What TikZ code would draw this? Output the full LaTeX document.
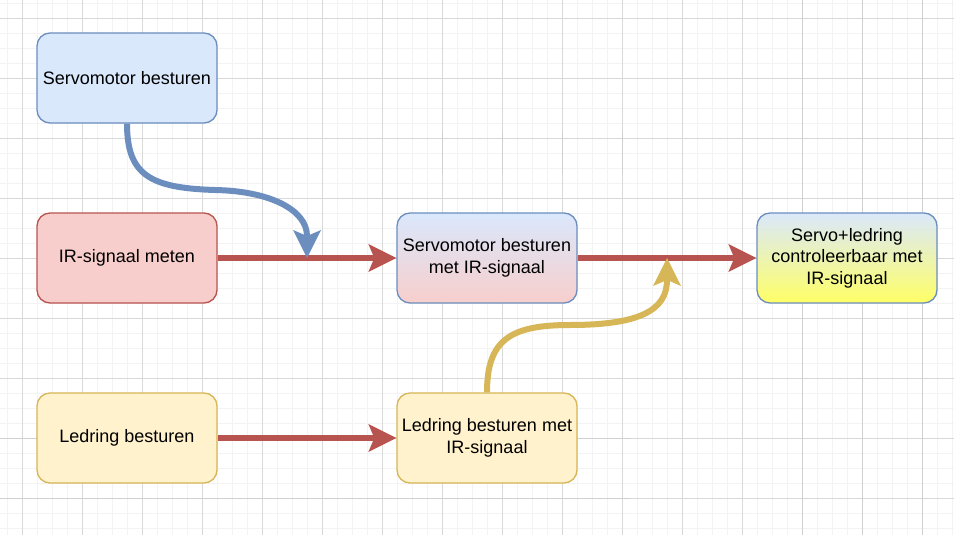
\documentclass[tikz,border=0pt]{standalone}
\usepackage{fontspec}
\setmainfont{Liberation Sans}
\usetikzlibrary{arrows.meta}
\definecolor{bfill}{HTML}{DAE8FC}
\definecolor{bline}{HTML}{6C8EBF}
\definecolor{rfill}{HTML}{F8CECC}
\definecolor{rline}{HTML}{B85450}
\definecolor{yfill}{HTML}{FFF2CC}
\definecolor{yline}{HTML}{D6B656}
\definecolor{ygrad}{HTML}{FFFF66}
\definecolor{gminor}{HTML}{F3F3F3}
\definecolor{gmajor}{HTML}{D9D9D9}
\definecolor{gdark}{HTML}{D0D0D0}
\tikzset{
  box/.style={rounded corners=13pt, line width=1.3pt, minimum width=180pt, minimum height=90pt,
    align=center, inner sep=0pt, font=\fontsize{18}{21.6}\selectfont},
  bluebox/.style={box, draw=bline, fill=bfill},
  redbox/.style={box, draw=rline, fill=rfill},
  yelbox/.style={box, draw=yline, fill=yfill},
  tipA/.style={-{Stealth[length=28pt,width=28pt,inset=6pt,line width=0pt]}},
  conn/.style={tipA, line width=6pt},
}
\begin{document}
\begin{tikzpicture}[x=1pt,y=-1pt]
\useasboundingbox (0,0) rectangle (954,535);
\fill[white] (0,0) rectangle (954,535);
% grid
\foreach \x in {7.7,22.7,...,954} \draw[gminor, line width=1.5pt] (\x,0) -- (\x,535);
\foreach \y in {3.3,18.3,...,535} \draw[gminor, line width=1.5pt] (0,\y) -- (954,\y);
\foreach \x in {22.7,82.7,...,954} \draw[gmajor, line width=1pt] (\x,0) -- (\x,535);
\foreach \y in {18.3,78.3,...,535} \draw[gmajor, line width=1pt] (0,\y) -- (954,\y);
\foreach \x in {802.7,862.7,922.7} \draw[gdark, line width=1.5pt] (\x,0) -- (\x,535);
\foreach \y in {438.3,498.3} \draw[gdark, line width=1.5pt] (0,\y) -- (630,\y);
\foreach \x in {442.7,502.7,562.7,622.7} \draw[gdark, line width=1.5pt] (\x,132) -- (\x,175);
% nodes
\node[bluebox] (A) at (127,78) {Servomotor besturen};
\node[redbox] (B) at (127,258) {IR-signaal meten};
\node[box, draw=bline, top color=bfill, bottom color=rfill] (C) at (487,258) {Servomotor besturen\\met IR-signaal};
\node[box, draw=bline, top color=bfill, bottom color=ygrad] (D) at (847,258) {Servo+ledring\\controleerbaar met\\IR-signaal};
\node[yelbox] (E) at (127,438) {Ledring besturen};
\node[yelbox] (F) at (487,438) {Ledring besturen met\\IR-signaal};
\coordinate (j1) at (307,258);
\coordinate (j2) at (667,258);
% connectors
\draw[conn, rline] (B) -- (C);
\draw[conn, rline] (C) -- (D);
\draw[conn, rline] (E) -- (F);
\draw[conn, bline] (A.south) .. controls (127,175) and (150,188) .. (215,190)
  .. controls (270,191) and (307,210) .. (j1);
\draw[conn, yline] (F.north) .. controls (487,340) and (510,325) .. (570,325)
  .. controls (640,325) and (667,310) .. (j2);
\end{tikzpicture}
\end{document}
